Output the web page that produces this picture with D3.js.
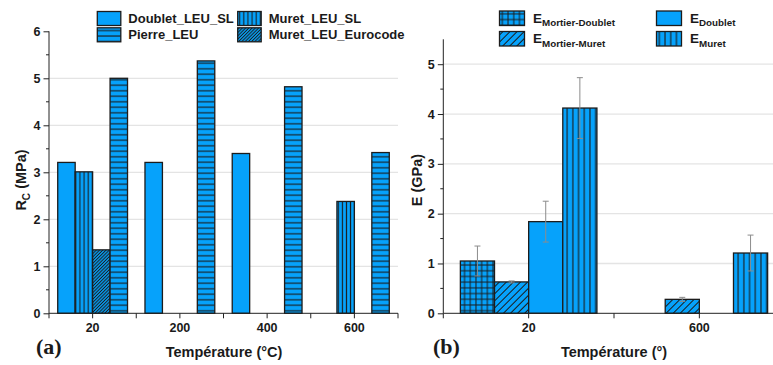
<!DOCTYPE html>
<html>
<head>
<meta charset="utf-8">
<script src="https://cdn.jsdelivr.net/npm/d3@7"></script>
<style>
  html, body { margin: 0; padding: 0; background: #fff; }
  svg { display: block; }
  text { font-family: "Liberation Sans", Arial, sans-serif; font-weight: bold; fill: #1a1a1a; }
</style>
</head>
<body>
<svg id="chart" width="773" height="365"></svg>
<script>
// ---- Panel (a): compressive strength R_C vs temperature ----
const tempsA = ["20", "200", "400", "600"];
const seriesA = ["Doublet_LEU_SL", "Muret_LEU_SL", "Muret_LEU_Eurocode", "Pierre_LEU"];
const doubletLEU = [3.21, 3.21, 3.40, null];
const muretLEU = [3.01, null, null, 2.38];
const muretEurocode = [1.35, null, null, null];
const pierreLEU = [5.00, 5.37, 4.82, 3.42];
const ticksA = [0, 1, 2, 3, 4, 5, 6];

// ---- Panel (b): elastic modulus E vs temperature ----
const tempsB = ["20", "600"];
const seriesB = ["Mortier-Doublet", "Mortier-Muret", "Doublet", "Muret"];
const eMortierDoublet = [1.05, null];
const eMortierMuret = [0.63, 0.28];
const eDoublet = [1.84, null];
const eMuret = [4.12, 1.21];
const errMortierDoublet = [0.30, null];
const errMortierMuret = [0.02, 0.04];
const errDoublet = [0.41, null];
const errMuret = [0.61, 0.36];
const ticksB = [0, 1, 2, 3, 4, 5];

const BLUE = "#06a2fb";
const INK = "#1a1a1a";

const svg = d3.select("#chart");
const defs = svg.append("defs");

// Fill patterns: solid blue with dark hatch lines
function pattern(id, kind, s) {
  const p = defs.append("pattern").attr("id", id).attr("patternUnits", "userSpaceOnUse");
  if (kind === "h") {
    p.attr("width", 10).attr("height", s);
    p.append("rect").attr("width", 10).attr("height", s).attr("fill", BLUE);
    p.append("line").attr("x1", 0).attr("x2", 10).attr("y1", s / 2).attr("y2", s / 2)
      .attr("stroke", INK).attr("stroke-width", 1.1);
  } else if (kind === "v") {
    p.attr("width", s).attr("height", 10);
    p.append("rect").attr("width", s).attr("height", 10).attr("fill", BLUE);
    p.append("line").attr("y1", 0).attr("y2", 10).attr("x1", s / 2).attr("x2", s / 2)
      .attr("stroke", INK).attr("stroke-width", 1.1);
  } else if (kind === "d") {
    p.attr("width", s).attr("height", s).attr("patternTransform", "rotate(45)");
    p.append("rect").attr("width", s).attr("height", s).attr("fill", BLUE);
    p.append("line").attr("y1", 0).attr("y2", s).attr("x1", s / 2).attr("x2", s / 2)
      .attr("stroke", INK).attr("stroke-width", 1);
  } else if (kind === "g") {
    p.attr("width", s).attr("height", s);
    p.append("rect").attr("width", s).attr("height", s).attr("fill", BLUE);
    p.append("line").attr("y1", 0).attr("y2", s).attr("x1", s / 2).attr("x2", s / 2)
      .attr("stroke", INK).attr("stroke-width", 1);
    p.append("line").attr("x1", 0).attr("x2", s).attr("y1", s / 2).attr("y2", s / 2)
      .attr("stroke", INK).attr("stroke-width", 1);
  }
}
pattern("pA_h", "h", 5.5);
pattern("pA_v", "v", 4.1);
pattern("pA_d", "d", 2.3);
pattern("pB_g", "g", 5.7);
pattern("pB_d", "d", 5.0);
pattern("pB_v", "v", 5.7);

const fillsA = [BLUE, "url(#pA_v)", "url(#pA_d)", "url(#pA_h)"];
const fillsB = ["url(#pB_g)", "url(#pB_d)", BLUE, "url(#pB_v)"];

function panel(opts) {
  const { x0, x1, yTop, yBot, ymax, axisMax, cats, series, values, errors, fills, ticks } = opts;
  const g = svg.append("g");
  const y = d3.scaleLinear().domain([0, ymax]).range([yBot, yTop]);
  const x = d3.scaleBand().domain(cats).range([x0, x1]).paddingInner(0).paddingOuter(0);
  const xs = d3.scaleBand().domain(series).range([0, x.bandwidth()]).paddingInner(0).paddingOuter(0.5);

  // gridlines
  g.append("g").selectAll("line").data(ticks.filter(t => t > 0 && t < ymax))
    .join("line")
    .attr("x1", x0).attr("x2", x1)
    .attr("y1", d => y(d)).attr("y2", d => y(d))
    .attr("stroke", "#e4e4e4").attr("stroke-width", 1.3);

  // bars
  const rows = [];
  cats.forEach((c, i) => series.forEach((s, j) => {
    const v = values[j][i];
    if (v != null) rows.push({ c, s, v, j, e: errors ? errors[j][i] : null });
  }));
  g.append("g").selectAll("rect").data(rows).join("rect")
    .attr("x", d => x(d.c) + xs(d.s))
    .attr("y", d => y(d.v))
    .attr("width", xs.bandwidth())
    .attr("height", d => y(0) - y(d.v))
    .attr("fill", d => fills[d.j])
    .attr("stroke", "#1c1c1c").attr("stroke-width", 1.3);

  // error bars
  if (errors) {
    const eg = g.append("g").attr("stroke", "#8c8c8c").attr("stroke-width", 1);
    rows.filter(d => d.e != null).forEach(d => {
      const cx = x(d.c) + xs(d.s) + xs.bandwidth() / 2;
      eg.append("line").attr("x1", cx).attr("x2", cx).attr("y1", y(d.v + d.e)).attr("y2", y(d.v - d.e));
      [d.v + d.e, d.v - d.e].forEach(t => {
        eg.append("line").attr("x1", cx - 3).attr("x2", cx + 3).attr("y1", y(t)).attr("y2", y(t));
      });
    });
  }

  // y axis
  const ya = d3.axisLeft(y).tickValues(ticks).tickSize(5.5).tickPadding(3).tickFormat(d3.format("d"));
  const yg = g.append("g").attr("transform", `translate(${x0},0)`).call(ya);
  yg.select(".domain").remove();
  yg.append("line").attr("x1", 0).attr("x2", 0).attr("y1", y(0)).attr("y2", y(axisMax))
    .attr("stroke", "#222").attr("stroke-width", 1);
  yg.selectAll(".tick line").attr("stroke", "#222");
  yg.selectAll(".tick text").style("font-size", "12.5px").attr("fill", INK);
  const minors = d3.range(0.5, axisMax, 1);
  yg.append("g").selectAll("line").data(minors).join("line")
    .attr("x1", -3).attr("x2", 0).attr("y1", d => y(d)).attr("y2", d => y(d))
    .attr("stroke", "#222");

  // x axis: labels at group centres, ticks at centres and boundaries
  const xa = d3.axisBottom(x).tickSize(5).tickPadding(5);
  const xg = g.append("g").attr("transform", `translate(0,${y(0)})`).call(xa);
  xg.select(".domain").remove();
  xg.append("line").attr("x1", x0).attr("x2", x1).attr("stroke", "#222").attr("stroke-width", 1);
  xg.selectAll(".tick line").attr("stroke", "#222");
  xg.selectAll(".tick text").style("font-size", "12.5px").attr("fill", INK);
  xg.append("g").selectAll("line").data(cats.map(c => x(c)).concat([x1]))
    .join("line")
    .attr("x1", d => d).attr("x2", d => d).attr("y1", 0).attr("y2", 5)
    .attr("stroke", "#222");
  return { g, x, y };
}

// Panel (a)
panel({
  x0: 49, x1: 398, yTop: 31.3, yBot: 313.3, ymax: 6, axisMax: 6,
  cats: tempsA, series: seriesA,
  values: [doubletLEU, muretLEU, muretEurocode, pierreLEU],
  errors: null, fills: fillsA, ticks: ticksA
});

// Panel (b)
panel({
  x0: 443.3, x1: 784.7, yTop: 39.3, yBot: 313.3, ymax: 5.5, axisMax: 5.5,
  cats: tempsB, series: seriesB,
  values: [eMortierDoublet, eMortierMuret, eDoublet, eMuret],
  errors: [errMortierDoublet, errMortierMuret, errDoublet, errMuret],
  fills: fillsB, ticks: ticksB
});

// Axis titles
const ytA = svg.append("text").attr("transform", "translate(26,180) rotate(-90)")
  .attr("text-anchor", "middle").style("font-size", "14.5px");
ytA.append("tspan").text("R");
ytA.append("tspan").attr("dy", 3.5).style("font-size", "10px").text("C");
ytA.append("tspan").attr("dy", -3.5).text(" (MPa)");

svg.append("text").attr("transform", "translate(422,180) rotate(-90)")
  .attr("text-anchor", "middle").style("font-size", "14.5px").text("E (GPa)");

svg.append("text").attr("x", 224).attr("y", 357).attr("text-anchor", "middle")
  .style("font-size", "14.5px").text("Température (°C)");
svg.append("text").attr("x", 614).attr("y", 357).attr("text-anchor", "middle")
  .style("font-size", "14.5px").text("Température (°)");

// Panel letters
svg.append("text").attr("x", 36).attr("y", 354)
  .style("font-family", "'Liberation Serif', 'DejaVu Serif', serif").style("font-size", "22px")
  .text("(a)");
svg.append("text").attr("x", 433).attr("y", 354)
  .style("font-family", "'Liberation Serif', 'DejaVu Serif', serif").style("font-size", "22px")
  .text("(b)");

// Legend (a)
const legA = [
  { name: seriesA[0], fill: fillsA[0], x: 97.3, y: 11.5 },
  { name: seriesA[3], fill: fillsA[3], x: 97.3, y: 27.8 },
  { name: seriesA[1], fill: fillsA[1], x: 237.7, y: 11.5 },
  { name: seriesA[2], fill: fillsA[2], x: 237.7, y: 27.8 }
];
const lgA = svg.append("g").selectAll("g").data(legA).join("g")
  .attr("transform", d => `translate(${d.x},${d.y})`);
lgA.append("rect").attr("width", 23.5).attr("height", 14)
  .attr("fill", d => d.fill).attr("stroke", "#1c1c1c").attr("stroke-width", 1.3);
lgA.append("text").attr("x", 31).attr("y", 11).style("font-size", "13px").text(d => d.name);

// Legend (b)
const legB = [
  { sub: seriesB[0], fill: fillsB[0], x: 499.5, y: 11 },
  { sub: seriesB[1], fill: fillsB[1], x: 499.5, y: 31.5 },
  { sub: seriesB[2], fill: fillsB[2], x: 656.5, y: 11 },
  { sub: seriesB[3], fill: fillsB[3], x: 656.5, y: 31.5 }
];
const lgB = svg.append("g").selectAll("g").data(legB).join("g")
  .attr("transform", d => `translate(${d.x},${d.y})`);
lgB.append("rect").attr("width", 25).attr("height", 14.5)
  .attr("fill", d => d.fill).attr("stroke", "#1c1c1c").attr("stroke-width", 1.3);
const tB = lgB.append("text").attr("x", 33.5).attr("y", 11.8).style("font-size", "13.5px");
tB.append("tspan").text("E");
tB.append("tspan").attr("dy", 3.5).style("font-size", "9.8px").text(d => d.sub);
</script>
</body>
</html>
